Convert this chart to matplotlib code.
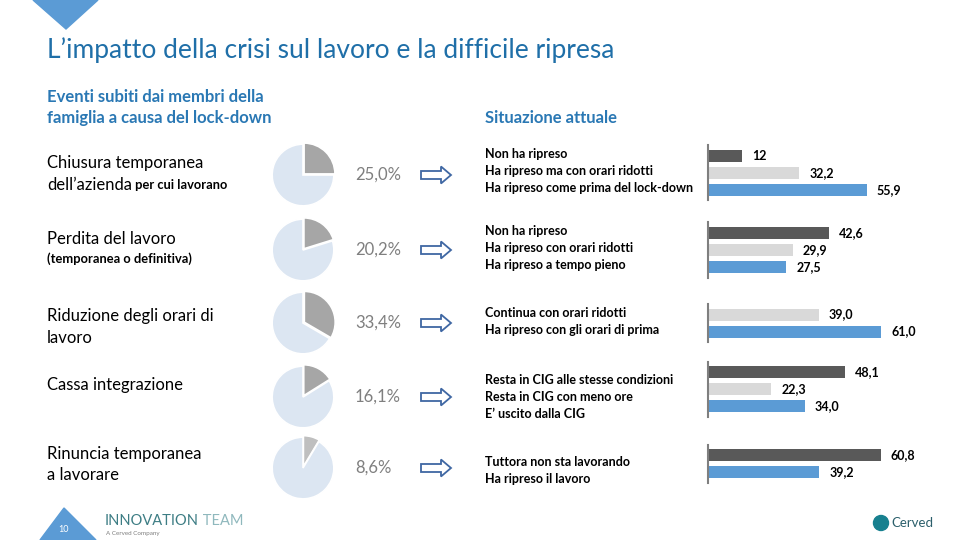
import matplotlib
matplotlib.use("Agg")
import matplotlib.pyplot as plt
import matplotlib.patches as mpatches

W, H = 960, 540

# eventi subiti (quota di famiglie)
event_titles = [
    ["Chiusura temporanea", "dell\u2019azienda"],
    ["Perdita del lavoro"],
    ["Riduzione degli orari di", "lavoro"],
    ["Cassa integrazione"],
    ["Rinuncia temporanea", "a lavorare"],
]
event_notes = ["per cui lavorano", "(temporanea o definitiva)", "", "", ""]
event_share = [25.0, 20.2, 33.4, 16.1, 8.6]

# situazione attuale
status_labels = [
    ["Non ha ripreso", "Ha ripreso ma con orari ridotti", "Ha ripreso come prima del lock-down"],
    ["Non ha ripreso", "Ha ripreso con orari ridotti", "Ha ripreso a tempo pieno"],
    ["Continua con orari ridotti", "Ha ripreso con gli orari di prima"],
    ["Resta in CIG alle stesse condizioni", "Resta in CIG con meno ore", "E\u2019 uscito dalla CIG"],
    ["Tuttora non sta lavorando", "Ha ripreso il lavoro"],
]
status_values = [
    [12, 32.2, 55.9],
    [42.6, 29.9, 27.5],
    [39.0, 61.0],
    [48.1, 22.3, 34.0],
    [60.8, 39.2],
]
status_kinds = [
    ["dark", "light", "blue"],
    ["dark", "light", "blue"],
    ["light", "blue"],
    ["dark", "light", "blue"],
    ["dark", "blue"],
]

BAR_COLORS = {"dark": "#595959", "light": "#d9d9d9", "blue": "#5b9bd5"}
TITLE_BLUE = "#1f6fa8"
HEAD_BLUE = "#2a78b4"

MAIN_FONT = ["Lato", "DejaVu Sans"]
NARROW_FONT = ["Liberation Sans Narrow", "Lato", "DejaVu Sans"]

# layout in pixel
row_y = [175, 250, 323, 397, 468]
bar_first_y = [156, 233, 314.5, 372, 455]
line_first_y = [154, 231, 313, 380, 462]
PITCH = 17
BAR_X0 = 708
PX_PER_UNIT = 2.84


def px_axes(fig, x0, y0, w, h):
    return fig.add_axes([x0 / W, 1 - (y0 + h) / H, w / W, h / H])


def fmt(v):
    if isinstance(v, int):
        return str(v)
    return f"{v:.1f}".replace(".", ",")


fig = plt.figure(figsize=(W / 100, H / 100), dpi=100)
bg = fig.add_axes([0, 0, 1, 1])
bg.set_xlim(0, W)
bg.set_ylim(H, 0)
bg.axis("off")

# decorazioni
bg.add_patch(mpatches.Polygon([(33, 0), (98, 0), (66, 29)], color="#5b9bd5"))
bg.add_patch(mpatches.Polygon([(40, 540), (96, 540), (64, 508)], color="#5b9bd5"))
bg.text(64, 530, "10", color="white", fontsize=6.5, ha="center", va="center", family=MAIN_FONT)

bg.text(47, 50, "L\u2019impatto della crisi sul lavoro e la difficile ripresa",
        fontsize=19, color=TITLE_BLUE, va="center", family=MAIN_FONT)
bg.text(47, 97, "Eventi subiti dai membri della", fontsize=12, color=HEAD_BLUE,
        fontweight="bold", va="center", family=MAIN_FONT)
bg.text(47, 118, "famiglia a causa del lock-down", fontsize=12, color=HEAD_BLUE,
        fontweight="bold", va="center", family=MAIN_FONT)
bg.text(485, 118, "Situazione attuale", fontsize=12, color=HEAD_BLUE,
        fontweight="bold", va="center", family=MAIN_FONT)

# colonna sinistra: etichette
label_y = [[163, 185], [239], [316, 338], [385], [454, 475]]
note_y = [185, 259, None, None, None]
for i, lines in enumerate(event_titles):
    last = None
    for j, line in enumerate(lines):
        last = bg.text(47, label_y[i][j], line, fontsize=12, va="center",
                       color="black", family=MAIN_FONT)
    if event_notes[i]:
        if note_y[i] == label_y[i][-1]:
            bg.annotate(" " + event_notes[i], xycoords=last, xy=(1, 0.5),
                        va="center", fontsize=9.3, fontweight="bold",
                        family=NARROW_FONT)
        else:
            bg.text(47, note_y[i], event_notes[i], fontsize=9.3, va="center",
                    fontweight="bold", family=NARROW_FONT)

# torte
for i, share in enumerate(event_share):
    cy = row_y[i]
    ax = px_axes(fig, 303 - 33, cy - 33, 66, 66)
    slice_color = "#bfbfbf" if share < 10 else "#a6a6a6"
    ax.pie([share, 100 - share], colors=[slice_color, "#dce6f2"], startangle=90,
           counterclock=False, explode=(0.05, 0),
           wedgeprops=dict(edgecolor="white", linewidth=1.2))
    ax.set_xlim(-1.07, 1.07)
    ax.set_ylim(-1.07, 1.07)
    ax.set_aspect("equal")
    ax.axis("off")

    bg.text(355, cy, f"{share:.1f}%".replace(".", ","), fontsize=12, color="#7f7f7f",
            va="center", family=MAIN_FONT)
    bg.add_patch(mpatches.FancyArrow(421, cy, 30, 0, width=8, head_width=17,
                                     head_length=10, length_includes_head=True,
                                     facecolor="white", edgecolor="#3f67a3", linewidth=1.3))

# descrizioni e barre
for g, labels in enumerate(status_labels):
    for j, line in enumerate(labels):
        bg.text(485, line_first_y[g] + j * PITCH, line, fontsize=9, fontweight="bold",
                va="center", family=NARROW_FONT)

    vals = status_values[g]
    n = len(vals)
    top = bar_first_y[g] - PITCH / 2 - 2
    ax = px_axes(fig, BAR_X0, top, 240, n * PITCH + 4)
    ax.set_xlim(0, 240 / PX_PER_UNIT)
    ax.set_ylim(n - 0.5 + 2 / PITCH, -0.5 - 2 / PITCH)
    ax.barh(range(n), vals, height=12 / PITCH,
            color=[BAR_COLORS[k] for k in status_kinds[g]])
    for j, v in enumerate(vals):
        ax.text(v + 10 / PX_PER_UNIT, j, fmt(v), va="center", fontsize=9,
                fontweight="bold", family=NARROW_FONT)
    for s in ["top", "right", "bottom"]:
        ax.spines[s].set_visible(False)
    ax.spines["left"].set_color("#7f7f7f")
    ax.spines["left"].set_linewidth(1.5)
    ax.set_xticks([])
    ax.set_yticks([])
    ax.patch.set_alpha(0)

# loghi
t = bg.text(105, 521, "INNOVATION", fontsize=10.5, color="#3d7d84", va="center",
            family=MAIN_FONT)
bg.annotate(" TEAM", xycoords=t, xy=(1, 0.5), va="center", fontsize=10.5,
            color="#8fb8bd", family=MAIN_FONT)
bg.text(106, 533, "A Cerved Company", fontsize=4.5, color="#7f7f7f", va="center",
        family=MAIN_FONT)
bg.add_patch(mpatches.Circle((881, 523), 7.5, color="#17808f"))
bg.text(891, 523, "Cerved", fontsize=9.5, color="#2b5f6b", va="center", family=MAIN_FONT)

fig.savefig("out.png", dpi=100)
